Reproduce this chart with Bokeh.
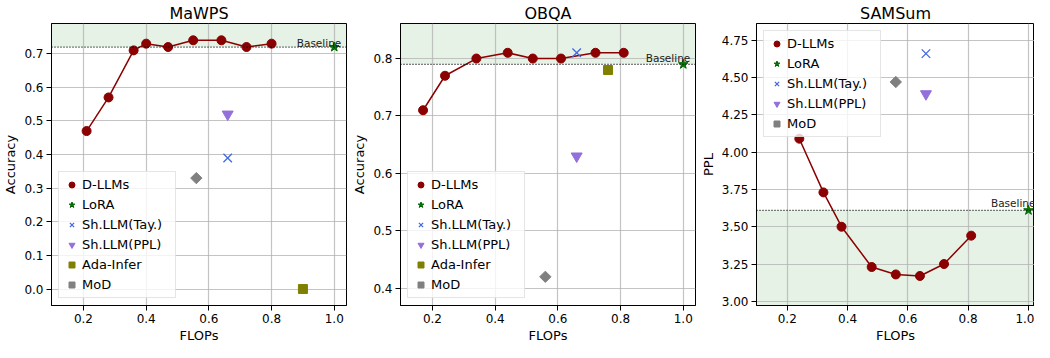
import math
from bokeh.plotting import figure
from bokeh.models import (Span, BoxAnnotation, Legend, LegendItem, FixedTicker,
                          Label, Range1d, Title)
from bokeh.layouts import row
from bokeh.embed import file_html
from bokeh.resources import INLINE

FONT = "DejaVu Sans"

# ---------------- data ----------------
titles = ["MaWPS", "OBQA", "SAMSum"]
y_axis_labels = ["Accuracy", "Accuracy", "PPL"]
x_axis_label = "FLOPs"

x_ticks = [0.2, 0.4, 0.6, 0.8, 1.0]
x_tick_labels = ["0.2", "0.4", "0.6", "0.8", "1.0"]

# MaWPS
mawps_dllm_x = [0.21, 0.28, 0.36, 0.40, 0.47, 0.55, 0.64, 0.72, 0.80]
mawps_dllm_y = [0.47, 0.57, 0.71, 0.73, 0.72, 0.74, 0.74, 0.72, 0.73]
mawps_lora = ([1.0], [0.72])
mawps_tay = ([0.66], [0.39])
mawps_ppl = ([0.66], [0.52])
mawps_ada = ([0.90], [0.00])
mawps_mod = ([0.56], [0.33])
mawps_baseline = 0.72
mawps_y_ticks = [0.0, 0.1, 0.2, 0.3, 0.4, 0.5, 0.6, 0.7]
mawps_y_tick_labels = ["0.0", "0.1", "0.2", "0.3", "0.4", "0.5", "0.6", "0.7"]

# OBQA
obqa_dllm_x = [0.17, 0.24, 0.34, 0.44, 0.52, 0.61, 0.72, 0.81]
obqa_dllm_y = [0.71, 0.77, 0.80, 0.81, 0.80, 0.80, 0.81, 0.81]
obqa_lora = ([1.0], [0.79])
obqa_tay = ([0.66], [0.81])
obqa_ppl = ([0.66], [0.63])
obqa_ada = ([0.76], [0.78])
obqa_mod = ([0.56], [0.42])
obqa_baseline = 0.79
obqa_y_ticks = [0.4, 0.5, 0.6, 0.7, 0.8]
obqa_y_tick_labels = ["0.4", "0.5", "0.6", "0.7", "0.8"]

# SAMSum
samsum_dllm_x = [0.24, 0.32, 0.38, 0.48, 0.56, 0.64, 0.72, 0.81]
samsum_dllm_y = [4.09, 3.73, 3.50, 3.23, 3.18, 3.17, 3.25, 3.44]
samsum_lora = ([1.0], [3.61])
samsum_tay = ([0.66], [4.66])
samsum_ppl = ([0.66], [4.39])
samsum_mod = ([0.56], [4.47])
samsum_baseline = 3.61
samsum_y_ticks = [3.0, 3.25, 3.5, 3.75, 4.0, 4.25, 4.5, 4.75]
samsum_y_tick_labels = ["3.00", "3.25", "3.50", "3.75", "4.00", "4.25", "4.50", "4.75"]

# ---------------- styling ----------------
C_DLLM = "#8b0000"
C_LORA = "#006400"
C_TAY = "#4169e1"
C_PPL = "#9370db"
C_ADA = "#808000"
C_MOD = "#808080"


def make_panel(title, ylabel, width, border_left, border_right, xr, yr,
               dllm_x, dllm_y, lora, tay, ppl, ada, mod, baseline,
               y_ticks, y_tick_labels, shade_above, legend_loc):
    p = figure(width=width, height=342, output_backend="svg", toolbar_location=None,
               x_range=Range1d(*xr), y_range=Range1d(*yr),
               min_border_left=border_left, min_border_right=border_right,
               min_border_top=0, min_border_bottom=0, title=title)
    p.background_fill_color = "white"
    p.border_fill_color = "white"
    p.outline_line_color = "black"
    p.outline_line_width = 1
    p.outline_line_alpha = 1.0

    p.title.text_font = FONT
    p.title.text_font_size = "16px"
    p.title.text_font_style = "normal"
    p.title.text_color = "black"
    p.title.align = "center"
    p.title.standoff = 2

    for ax in (p.xaxis[0], p.yaxis[0]):
        ax.axis_line_color = "black"
        ax.major_tick_line_color = "black"
        ax.major_tick_out = 5
        ax.major_tick_in = 0
        ax.minor_tick_line_color = None
        ax.major_label_text_font = FONT
        ax.major_label_text_font_size = "12px"
        ax.major_label_text_color = "black"
        ax.major_label_text_line_height = 1.0
        ax.major_label_standoff = 3
        ax.axis_label_text_font = FONT
        ax.axis_label_text_font_size = "13px"
        ax.axis_label_text_font_style = "normal"
        ax.axis_label_text_color = "black"
        ax.axis_label_text_line_height = 1.0
        ax.axis_label_standoff = 3

    p.yaxis[0].axis_label = ylabel
    p.xaxis[0].axis_label = None
    xlab = Title(text=x_axis_label, align="center", text_font=FONT,
                 text_font_size="13px", text_font_style="normal",
                 text_color="black", standoff=0, text_line_height=1.0)
    p.add_layout(xlab, "below")

    p.xaxis[0].ticker = FixedTicker(ticks=x_ticks)
    p.xaxis[0].major_label_overrides = dict(zip(x_ticks, x_tick_labels))
    p.yaxis[0].ticker = FixedTicker(ticks=y_ticks)
    p.yaxis[0].major_label_overrides = dict(zip(y_ticks, y_tick_labels))

    for g in (p.xgrid, p.ygrid):
        g.grid_line_color = "#b0b0b0"
        g.grid_line_alpha = 0.75
        g.grid_line_width = 1.2
    p.xgrid.ticker = FixedTicker(ticks=x_ticks)
    p.ygrid.ticker = FixedTicker(ticks=y_ticks)

    if shade_above:
        shade = BoxAnnotation(bottom=baseline, fill_color="green", fill_alpha=0.1,
                              line_alpha=0, level="image")
    else:
        shade = BoxAnnotation(top=baseline, fill_color="green", fill_alpha=0.1,
                              line_alpha=0, level="image")
    p.add_layout(shade)

    p.add_layout(Span(location=baseline, dimension="width", line_color="black",
                      line_dash="1 2", line_width=1.2))
    p.add_layout(Label(x=1.0, y=baseline * 1.01, x_offset=7, y_offset=2, text="Baseline",
                       text_align="right", text_baseline="alphabetic",
                       text_font=FONT, text_font_size="10.5px", text_color="#222222"))

    p.line(dllm_x, dllm_y, line_color=C_DLLM, line_width=1.5)
    r_dllm = p.scatter(dllm_x, dllm_y, marker="circle", size=9,
                       fill_color=C_DLLM, line_color=C_DLLM)
    r_lora = p.scatter(lora[0], lora[1], marker="star", size=10,
                       fill_color="green", line_color=C_LORA)
    r_tay = p.scatter(tay[0], tay[1], marker="x", size=12, line_color=C_TAY,
                      line_width=1.3)
    r_ppl = p.scatter(ppl[0], ppl[1], marker="inverted_triangle", size=11,
                      fill_color=C_PPL, line_color=C_PPL)
    items = [LegendItem(label="D-LLMs", renderers=[r_dllm]),
             LegendItem(label="LoRA", renderers=[r_lora]),
             LegendItem(label="Sh.LLM(Tay.)", renderers=[r_tay]),
             LegendItem(label="Sh.LLM(PPL)", renderers=[r_ppl])]
    if ada is not None:
        r_ada = p.scatter(ada[0], ada[1], marker="square", size=9,
                          fill_color=C_ADA, line_color=C_ADA)
        items.append(LegendItem(label="Ada-Infer", renderers=[r_ada]))
    r_mod = p.scatter(mod[0], mod[1], marker="square", size=8, angle=math.pi / 4,
                      fill_color=C_MOD, line_color=C_MOD)
    items.append(LegendItem(label="MoD", renderers=[r_mod]))

    leg = Legend(items=items, location=legend_loc)
    leg.background_fill_color = "white"
    leg.background_fill_alpha = 0.8
    leg.border_line_color = "#cccccc"
    leg.border_line_width = 1
    leg.label_text_font = FONT
    leg.label_text_font_size = "13px"
    leg.label_text_color = "black"
    leg.glyph_width = 15
    leg.glyph_height = 15
    leg.label_height = 15
    leg.label_width = 88
    leg.label_standoff = 3
    leg.spacing = 5
    leg.padding = 5
    leg.margin = 7
    p.add_layout(leg)
    return p


p1 = make_panel(titles[0], y_axis_labels[0], 349, 46, 3, (0.098, 1.039), (-0.049, 0.790),
                mawps_dllm_x, mawps_dllm_y, mawps_lora, mawps_tay, mawps_ppl,
                mawps_ada, mawps_mod, mawps_baseline, mawps_y_ticks,
                mawps_y_tick_labels, True, "bottom_left")
p2 = make_panel(titles[1], y_axis_labels[1], 348, 46, 2, (0.098, 1.039), (0.370, 0.861),
                obqa_dllm_x, obqa_dllm_y, obqa_lora, obqa_tay, obqa_ppl,
                obqa_ada, obqa_mod, obqa_baseline, obqa_y_ticks,
                obqa_y_tick_labels, True, "bottom_left")
p3 = make_panel(titles[2], y_axis_labels[2], 337, 52, 0, (0.098, 1.02), (2.972, 4.862),
                samsum_dllm_x, samsum_dllm_y, samsum_lora, samsum_tay, samsum_ppl,
                None, samsum_mod, samsum_baseline, samsum_y_ticks,
                samsum_y_tick_labels, False, "top_left")

layout = row(p1, p2, p3, spacing=0)
open("out.html", "w").write(file_html(layout, INLINE))
